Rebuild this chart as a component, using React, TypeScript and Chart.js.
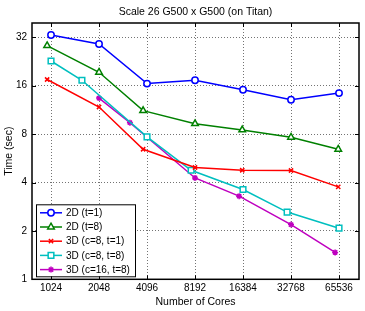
import React, { useEffect, useRef } from "react";
import { Chart, registerables } from "chart.js";
import { drawPoint } from "chart.js/helpers";
Chart.register(...registerables);

const TITLE = "Scale 26 G500 x G500 (on Titan)";
const X_TITLE = "Number of Cores";
const Y_TITLE = "Time (sec)";
const X_TICKS = [1024, 2048, 4096, 8192, 16384, 32768, 65536];
const Y_TICKS = [1, 2, 4, 8, 16, 32];
const X_MIN = 778;
const X_MAX = 87460;
const Y_MIN = 1;
const Y_MAX = 39.3;

const SERIES_NAMES = ["2D (t=1)", "2D (t=8)", "3D (c=8, t=1)", "3D (c=8, t=8)", "3D (c=16, t=8)"];

const cores2D_t1 = [1024, 2048, 4096, 8192, 16384, 32768, 65536];
const time2D_t1 = [33.1, 29.1, 16.5, 17.3, 15.1, 13.1, 14.4];

const cores2D_t8 = [968, 2048, 3872, 8192, 16200, 32768, 64800];
const time2D_t8 = [28.4, 19.4, 11.2, 9.29, 8.5, 7.65, 6.44];

const cores3D_c8_t1 = [968, 2048, 3872, 8192, 16200, 32768, 64800];
const time3D_c8_t1 = [17.5, 11.8, 6.44, 4.96, 4.77, 4.75, 3.76];

const cores3D_c8_t8 = [1024, 1600, 4096, 7744, 16384, 30976, 65536];
const time3D_c8_t8 = [22.8, 17.3, 7.69, 4.77, 3.62, 2.62, 2.08];

const cores3D_c16_t8 = [2048, 3200, 8192, 15488, 32768, 61952];
const time3D_c16_t8 = [13.4, 9.42, 4.27, 3.29, 2.19, 1.47];

const SERIES_CORES = [cores2D_t1, cores2D_t8, cores3D_c8_t1, cores3D_c8_t8, cores3D_c16_t8];
const SERIES_TIMES = [time2D_t1, time2D_t8, time3D_c8_t1, time3D_c8_t8, time3D_c16_t8];
const COLORS = ["#0000ff", "#008000", "#ff0000", "#00bfbf", "#bf00bf"];
const POINT_STYLES = ["circle", "triangle", "crossRot", "rect", "star"];
const POINT_RADII = [3.2, 3.8, 3, 4, 3];

const FONT = "'Liberation Sans', Arial, Helvetica, sans-serif";

const framePlugin = {
  id: "matlabFrame",
  afterDatasetsDraw(chart: any) {
    const { ctx, chartArea: a, scales } = chart;
    ctx.save();
    ctx.strokeStyle = "#000";
    ctx.lineWidth = 1;
    const tl = 4;
    ctx.beginPath();
    X_TICKS.forEach((v) => {
      const x = Math.round(scales.x.getPixelForValue(v)) + 0.5;
      ctx.moveTo(x, a.bottom);
      ctx.lineTo(x, a.bottom - tl);
      ctx.moveTo(x, a.top);
      ctx.lineTo(x, a.top + tl);
    });
    Y_TICKS.forEach((v) => {
      const y = Math.round(scales.y.getPixelForValue(v)) + 0.5;
      ctx.moveTo(a.left, y);
      ctx.lineTo(a.left + tl, y);
      ctx.moveTo(a.right, y);
      ctx.lineTo(a.right - tl, y);
    });
    ctx.stroke();
    ctx.lineWidth = 1.5;
    ctx.strokeRect(a.left, a.top, a.right - a.left, a.bottom - a.top);

    // title
    ctx.fillStyle = "#000";
    ctx.font = `10.5px ${FONT}`;
    ctx.textAlign = "center";
    ctx.textBaseline = "middle";
    ctx.fillText(TITLE, (a.left + a.right) / 2, a.top - 11);

    // legend
    const lx = a.left + 4;
    const lw = 99;
    const rowH = 14.2;
    const lh = rowH * SERIES_NAMES.length + 1;
    const ly = a.bottom - 3 - lh;
    ctx.fillStyle = "#fff";
    ctx.fillRect(lx, ly, lw, lh);
    ctx.lineWidth = 1;
    ctx.strokeStyle = "#000";
    ctx.strokeRect(lx + 0.5, ly + 0.5, lw, lh);
    ctx.font = `10px ${FONT}`;
    ctx.textAlign = "left";
    SERIES_NAMES.forEach((name, i) => {
      const cy = ly + 8.5 + i * rowH;
      ctx.strokeStyle = COLORS[i];
      ctx.lineWidth = 1.5;
      ctx.beginPath();
      ctx.moveTo(lx + 4, cy);
      ctx.lineTo(lx + 26, cy);
      ctx.stroke();
      ctx.fillStyle = "#fff";
      drawPoint(ctx, { pointStyle: POINT_STYLES[i], radius: POINT_RADII[i], rotation: 0, borderWidth: 1.5 } as any, lx + 15, cy);
      ctx.fillStyle = "#000";
      ctx.fillText(name, lx + 30, cy + 0.5);
    });
    ctx.restore();
  },
};

export default function App() {
  const ref = useRef<HTMLCanvasElement | null>(null);
  useEffect(() => {
    document.body.style.margin = "0";
    Chart.defaults.font.family = FONT;
    Chart.defaults.color = "#000";
    const datasets = SERIES_NAMES.map((name, i) => ({
      label: name,
      data: SERIES_CORES[i].map((c, j) => ({ x: c, y: SERIES_TIMES[i][j] })),
      borderColor: COLORS[i],
      backgroundColor: "#fff",
      pointBackgroundColor: "#fff",
      pointBorderColor: COLORS[i],
      pointStyle: POINT_STYLES[i],
      pointRadius: POINT_RADII[i],
      pointBorderWidth: 1.5,
      borderWidth: 1.5,
      tension: 0,
    }));
    const chart = new Chart(ref.current as HTMLCanvasElement, {
      type: "line",
      data: { datasets } as any,
      options: {
        animation: false,
        responsive: false,
        maintainAspectRatio: false,
        layout: { padding: { left: 0, right: 6, top: 23, bottom: 0 } },
        plugins: { legend: { display: false }, tooltip: { enabled: false }, title: { display: false } },
        scales: {
          x: {
            type: "logarithmic",
            min: X_MIN,
            max: X_MAX,
            afterBuildTicks: (s: any) => {
              s.ticks = X_TICKS.map((v) => ({ value: v }));
            },
            afterFit: (s: any) => {
              s.height = 31.7;
            },
            ticks: {
              callback: (v: any) => String(v),
              font: { size: 10 },
              padding: 3,
              maxRotation: 0,
              autoSkip: false,
            },
            grid: { color: "rgba(0,0,0,0.55)", tickLength: 0, drawTicks: false },
            border: { display: false, dash: [1, 2] },
            title: { display: true, text: X_TITLE, font: { size: 10.5 }, padding: { top: 0, bottom: 3 } },
          },
          y: {
            type: "logarithmic",
            min: Y_MIN,
            max: Y_MAX,
            afterBuildTicks: (s: any) => {
              s.ticks = Y_TICKS.map((v) => ({ value: v }));
            },
            afterFit: (s: any) => {
              s.width = 32;
            },
            ticks: {
              callback: (v: any) => String(v),
              font: { size: 10 },
              padding: 5,
              autoSkip: false,
            },
            grid: { color: "rgba(0,0,0,0.55)", tickLength: 0, drawTicks: false },
            border: { display: false, dash: [1, 2] },
            title: { display: true, text: Y_TITLE, font: { size: 10.5 }, padding: { top: 3, bottom: 0 } },
          },
        },
      } as any,
      plugins: [framePlugin],
    });
    return () => chart.destroy();
  }, []);
  return (
    <div style={{ width: 365, height: 311 }}>
      <canvas ref={ref} width={365} height={311} style={{ width: 365, height: 311, display: "block" }} />
    </div>
  );
}
